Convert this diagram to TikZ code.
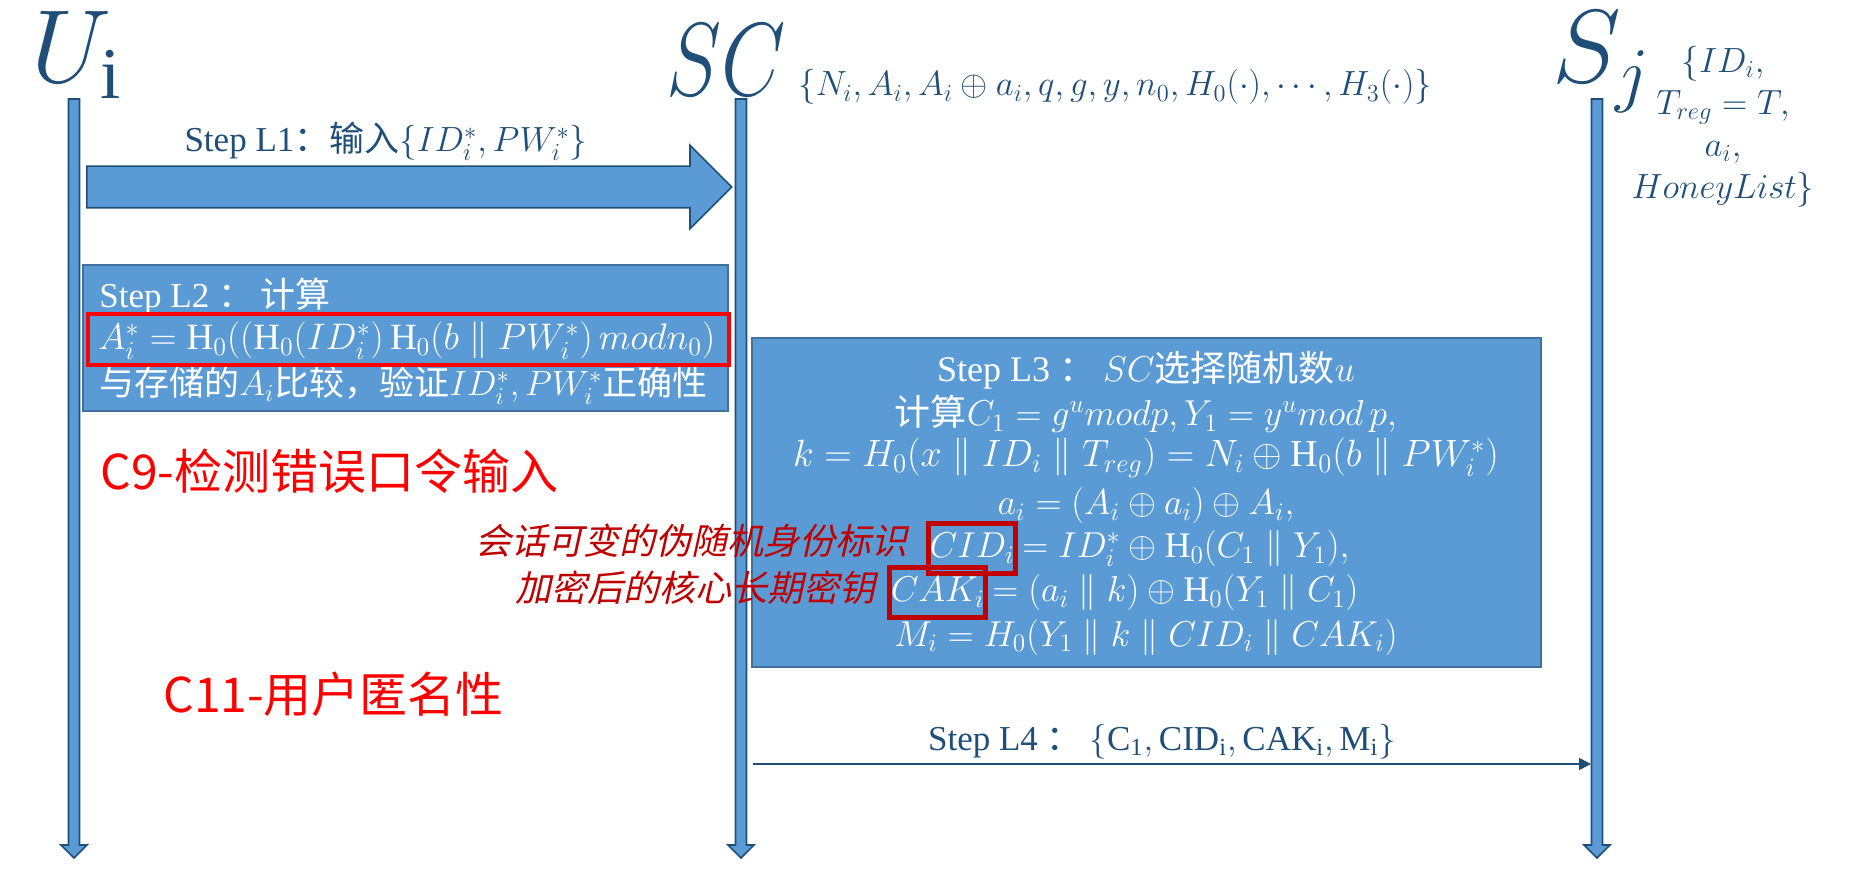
\RequirePackage{fix-cm}
\documentclass[tikz,border=0pt]{standalone}
\usepackage{fontspec}
\setmainfont{Liberation Serif}
\newfontfamily\zh{Noto Sans CJK SC}
\newfontfamily\zhit{Noto Sans CJK SC}[FakeSlant=0.22]
\usetikzlibrary{shapes.arrows,arrows.meta}
\definecolor{boxfill}{HTML}{5B9BD5}
\definecolor{boxline}{HTML}{41719C}
\definecolor{ink}{HTML}{1F4E79}
\definecolor{alertred}{HTML}{FF0000}
\definecolor{keyred}{HTML}{C00000}
\tikzset{
  seq lifeline/.style={draw=ink,fill=boxfill,line width=0.8pt},
  seq box/.style={draw=boxline,fill=boxfill,line width=1.2pt},
  seq arrow/.style={single arrow,draw=ink,fill=boxfill,line width=0.8pt,
    inner xsep=0pt,inner ysep=10pt,minimum height=322.5pt,
    single arrow head extend=10.5pt,single arrow tip angle=90},
  seq msg/.style={draw=ink,line width=0.8pt,-{Triangle[length=6pt,width=6pt]}},
  seq label/.style={text=ink,inner sep=0pt,font=\fontsize{52}{52}\selectfont},
  seq text/.style={text=ink,inner sep=0pt,font=\fontsize{17.5}{21}\selectfont},
  box text/.style={text=white,inner sep=0pt,font=\fontsize{17.5}{21}\selectfont},
  calc text/.style={text=white,inner sep=0pt,font=\fontsize{18}{22}\selectfont},
  alert mark/.style={draw=alertred,line width=2pt},
  key mark/.style={draw=keyred,line width=2.5pt,inner xsep=0.5pt,inner ysep=5pt},
  alert label/.style={text=alertred,inner sep=0pt,font=\zh\fontsize{24}{24}\selectfont},
  key note/.style={text=keyred,inner sep=0pt,font=\zhit\fontsize{18}{18}\selectfont}
}

\begin{document}
\begin{tikzpicture}[x=0.5pt,y=-0.5pt]
  \useasboundingbox (0,0) rectangle (1864,887);

  % lifelines
  \foreach \x in {74,741,1597}
    \draw[seq lifeline] (\x-5.5,99) -- (\x+5.5,99) -- (\x+5.5,845) -- (\x+13,845)
      -- (\x,858) -- (\x-13,845) -- (\x-5.5,845) -- cycle;

  % parties
  \node[seq label,anchor=base west] (ui) at (31,83) {$U_{\mathrm{i}}$};
  \node[seq label,anchor=base west] (sc) at (666,96) {\scalebox{0.8}[1]{$SC$}};
  \node[seq label,anchor=base west] (sj) at (1552,83) {$S_j$};
  \node[seq text,anchor=base west,font=\fontsize{17.5}{21}\selectfont] (scdata) at (798,96)
    {$\{N_i, A_i, A_i \oplus a_i, q, g, y, n_0, H_0(\cdot), \cdots, H_3(\cdot)\}$};
  \node[seq text,align=center,font=\fontsize{17.5}{21}\selectfont] (sjdata) at (1723,127)
    {$\{ID_i,$\\$T_{reg} = T,$\\$a_i,$\\$HoneyList\}$};

  % step L1
  \node[seq text,anchor=base] (l1txt) at (386,152)
    {Step L1{\zh：输入}$\{ID_i^*,PW_i^*\}$};
  \node[seq arrow,anchor=tail] (l1) at (86,187) {};

  % step L2
  \draw[seq box] (83,265) rectangle (728,411);
  \node[box text,anchor=base west] (l2a) at (99,308) {Step L2 {\zh ： 计算}};
  \node[box text,anchor=base west,font=\fontsize{18.5}{22}\selectfont] (l2b) at (98,350)
    {$A_i^* = \mathrm{H}_0((\mathrm{H}_0(ID_i^*)\,\mathrm{H}_0(b \parallel PW_i^*)\, mod n_0)$};
  \node[box text,anchor=base west] (l2c) at (99,396)
    {{\zh 与存储的}$A_i${\zh 比较，验证}$ID_i^*,PW_i^*${\zh 正确性}};
  \draw[alert mark] (88,314) rectangle (729,365);

  % step L3
  \draw[seq box] (752,338) rectangle (1541,667);
  \node[calc text,anchor=base] (l3a) at (1146,382) {Step L3 {\zh ： }$SC${\zh 选择随机数}$u$};
  \node[calc text,anchor=base] (l3b) at (1146,426)
    {{\zh 计算}$C_1 = g^u modp, Y_1 = y^u mod\, p,$};
  \node[calc text,anchor=base,font=\fontsize{19}{22}\selectfont] (l3c) at (1146,467)
    {$k = H_0\bigl(x \parallel ID_i \parallel T_{reg}\bigr) = N_i \oplus \mathrm{H}_0(b \parallel PW_i^*)$};
  \node[calc text,anchor=base] (l3d) at (1146,515) {$a_i = (A_i \oplus a_i) \oplus A_i,$};
  \node[calc text,key mark,anchor=base east] (cid) at (1018,558) {$CID_i$};
  \node[calc text,anchor=base west] (cidval) at (1022,558)
    {$= ID_i^* \oplus \mathrm{H}_0(C_1 \parallel Y_1),$};
  \node[calc text,key mark,anchor=base east] (cak) at (988,602) {$CAK_i$};
  \node[calc text,anchor=base west] (cakval) at (992,602)
    {$= (a_i \parallel k) \oplus \mathrm{H}_0(Y_1 \parallel C_1)$};
  \node[calc text,anchor=base] (l3g) at (1146,646)
    {$M_i = H_0(Y_1 \parallel k \parallel CID_i \parallel CAK_i)$};

  % notes
  \node[alert label,anchor=base west] (c9) at (100,490) {C9-检测错误口令输入};
  \node[alert label,anchor=base west] (c11) at (163,712) {C11-用户匿名性};
  \node[key note,anchor=base east] (cidnote) at (908,554) {会话可变的伪随机身份标识};
  \node[key note,anchor=base east] (caknote) at (876,602) {加密后的核心长期密钥};

  % step L4
  \coordinate (scl4) at (753,764);
  \coordinate (sjl4) at (1591,764);
  \draw[seq msg] (scl4) -- (sjl4);
  \node[seq text,anchor=base] (l4txt) at (1162,750)
    {Step L4 {\zh ： }$\{\mathrm{C_1, CID_i, CAK_i, M_i}\}$};
\end{tikzpicture}
\end{document}
